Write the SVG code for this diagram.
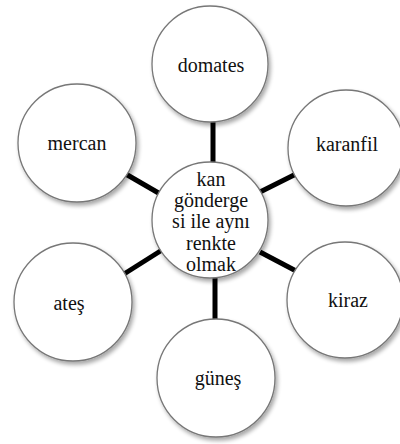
<svg xmlns="http://www.w3.org/2000/svg" width="400" height="444" viewBox="0 0 400 444">
<defs>
<filter id="sh" x="-20%" y="-20%" width="150%" height="150%">
<feGaussianBlur in="SourceAlpha" stdDeviation="2"/>
<feOffset dx="2" dy="3" result="b"/>
<feComponentTransfer><feFuncA type="linear" slope="0.35"/></feComponentTransfer>
<feMerge><feMergeNode/><feMergeNode in="SourceGraphic"/></feMerge>
</filter>
<style>
.c{fill:#fff;stroke:#777;stroke-width:1.3;filter:url(#sh)}
.t{font-family:"Liberation Serif","Times New Roman","DejaVu Serif",serif;font-size:20px;fill:#111;text-anchor:middle}
.l{stroke:#000;stroke-width:5;fill:none}
</style>
</defs>
<rect width="400" height="444" fill="#fff"/>
<g id="connectors">
<line class="l" x1="213" y1="120" x2="213" y2="166"/>
<line class="l" x1="215" y1="272" x2="215" y2="324"/>
<line class="l" x1="124" y1="173" x2="162" y2="195"/>
<line class="l" x1="298" y1="173" x2="260" y2="192"/>
<line class="l" x1="124" y1="274" x2="162" y2="250"/>
<line class="l" x1="298" y1="272" x2="260" y2="252"/>
</g>
<g id="domates"><circle class="c" cx="210" cy="64" r="58"/><text class="t" x="211" y="72">domates</text></g>
<g id="karanfil"><circle class="c" cx="346" cy="148" r="58"/><text class="t" x="347" y="151">karanfil</text></g>
<g id="mercan"><circle class="c" cx="77" cy="143" r="59"/><text class="t" x="77" y="150">mercan</text></g>
<g id="ates"><circle class="c" cx="73" cy="302" r="59"/><text class="t" x="69" y="310">ateş</text></g>
<g id="kiraz"><circle class="c" cx="345" cy="300" r="58"/><text class="t" x="348" y="307">kiraz</text></g>
<g id="gunes"><circle class="c" cx="216" cy="378" r="59"/><text class="t" x="218" y="385">güneş</text></g>
<g id="center"><circle class="c" cx="210" cy="220" r="58"/>
<text class="t" x="211" y="186">kan</text>
<text class="t" x="211" y="207">gönderge</text>
<text class="t" x="211" y="228">si ile aynı</text>
<text class="t" x="211" y="250">renkte</text>
<text class="t" x="211" y="271">olmak</text>
</g>
</svg>
